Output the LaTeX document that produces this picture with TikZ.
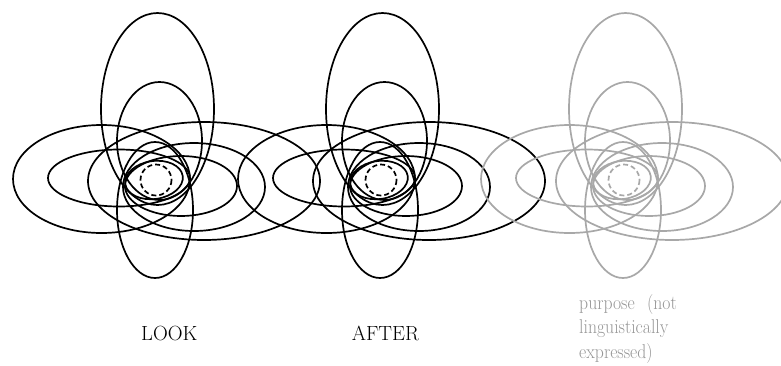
\documentclass[tikz,border=0pt]{standalone}
\definecolor{lightgrey}{RGB}{168,168,168}
\definecolor{textgrey}{RGB}{150,150,150}
\begin{document}
\begin{tikzpicture}[x=1pt,y=-1pt,
  ell/.style={line width=1.7pt},
  dsh/.style={line width=1.7pt,dash pattern=on 5pt off 3pt},
  lbl/.style={anchor=base west,inner sep=0pt,font=\fontsize{20.5}{24}\selectfont},
  glbl/.style={anchor=base west,inner sep=0pt,text=textgrey,font=\fontsize{20}{24}\selectfont},
  grp/.pic={
    % vertical ellipses
    \draw[ell] (157.5,109) ellipse [x radius=56.5,y radius=96];
    \draw[ell] (159.5,141) ellipse [x radius=42.5,y radius=59];
    \draw[ell] (155,210) ellipse [x radius=38,y radius=68];
    % left horizontal ellipses
    \draw[ell] (101.5,179) ellipse [x radius=88.5,y radius=54];
    \draw[ell] (119,178) ellipse [x radius=71,y radius=28.5];
    % right horizontal ellipses
    \draw[ell] (204,181) ellipse [x radius=116,y radius=59];
    \draw[ell] (194,187) ellipse [x radius=71,y radius=44];
    \draw[ell] (181,186) ellipse [x radius=56,y radius=30];
    % core
    \draw[ell] (154,180) ellipse [x radius=29,y radius=19,rotate=8];
    \draw[dsh] (156,180) circle [radius=15.5];
  }]
\useasboundingbox (0,0) rectangle (781,365);
\clip (0,0) rectangle (781,365);
\pic[black] at (0,0) {grp};
\pic[black] at (225,0) {grp};
\pic[lightgrey] at (468,0) {grp};
\node[lbl] (look) at (141,340.7) {LOOK};
\node[lbl] (after) at (351.7,340.7) {AFTER};
\node[glbl] (p1) at (579,309) {\scalebox{0.885}[1]{purpose\hspace{14pt}(not}};
\node[glbl] (p2) at (579,333.5) {\scalebox{0.885}[1]{linguistically}};
\node[glbl] (p3) at (579,358) {\scalebox{0.885}[1]{expressed)}};
\end{tikzpicture}
\end{document}
